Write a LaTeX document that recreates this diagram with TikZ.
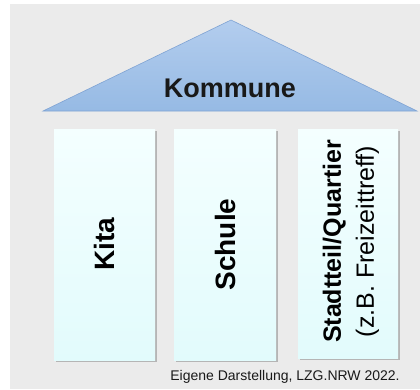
\documentclass[tikz,border=0pt]{standalone}
\usepackage{fontspec}
\setmainfont{Liberation Sans}
\usetikzlibrary{shadows,shadings}
\definecolor{bggrey}{HTML}{EBEBEB}
\definecolor{roofTop}{HTML}{B3CDEE}
\definecolor{roofBot}{HTML}{96BAE4}
\definecolor{roofLine}{HTML}{7FA3D3}
\definecolor{pillarTop}{HTML}{F4FFFF}
\definecolor{pillarBot}{HTML}{E2FBFC}
\tikzset{
  pillar/.style={rectangle, inner sep=0pt, top color=pillarTop, bottom color=pillarBot,
    draw=none, drop shadow={shadow xshift=1.5pt, shadow yshift=-2pt, opacity=0.4, fill=black!60}},
  pillartext/.style={rotate=90, align=center, font=\bfseries\fontsize{28}{32}\selectfont, text=black}
}
\begin{document}
\begin{tikzpicture}[x=1pt,y=-1pt]
\useasboundingbox (0,0) rectangle (420,389);
\fill[bggrey] (10,4) rectangle (420,389);
% roof
\shade[top color=roofTop, bottom color=roofBot, draw=roofLine, line width=0.6pt]
  (231,20) -- (417,111) -- (43,111) -- cycle;
\node[font=\bfseries\fontsize{27}{32}\selectfont, text=black!90] (kommune) at (230,88) {Kommune};
% pillars
\node[pillar, minimum width=101pt, minimum height=231pt] (kita) at (104.5,244.5) {};
\node[pillar, minimum width=102pt, minimum height=231pt] (schule) at (225,244.5) {};
\node[pillar, minimum width=100pt, minimum height=229pt] (quartier) at (348,243.5) {};
\node[pillartext] (kitatext) at (kita.center) {Kita};
\node[pillartext] (schuletext) at (schule.center) {Schule};
\node[rotate=90, align=center, text=black, font=\fontsize{25}{33}\selectfont] (quartiertext) at (351,241.5)
  {{\bfseries Stadtteil/Quartier}\\
   (z.B. Freizeittreff)};
\node[anchor=base, font=\fontsize{14}{16}\selectfont, text=black!90] (caption) at (285,380)
  {Eigene Darstellung, LZG.NRW 2022.};
\end{tikzpicture}
\end{document}
